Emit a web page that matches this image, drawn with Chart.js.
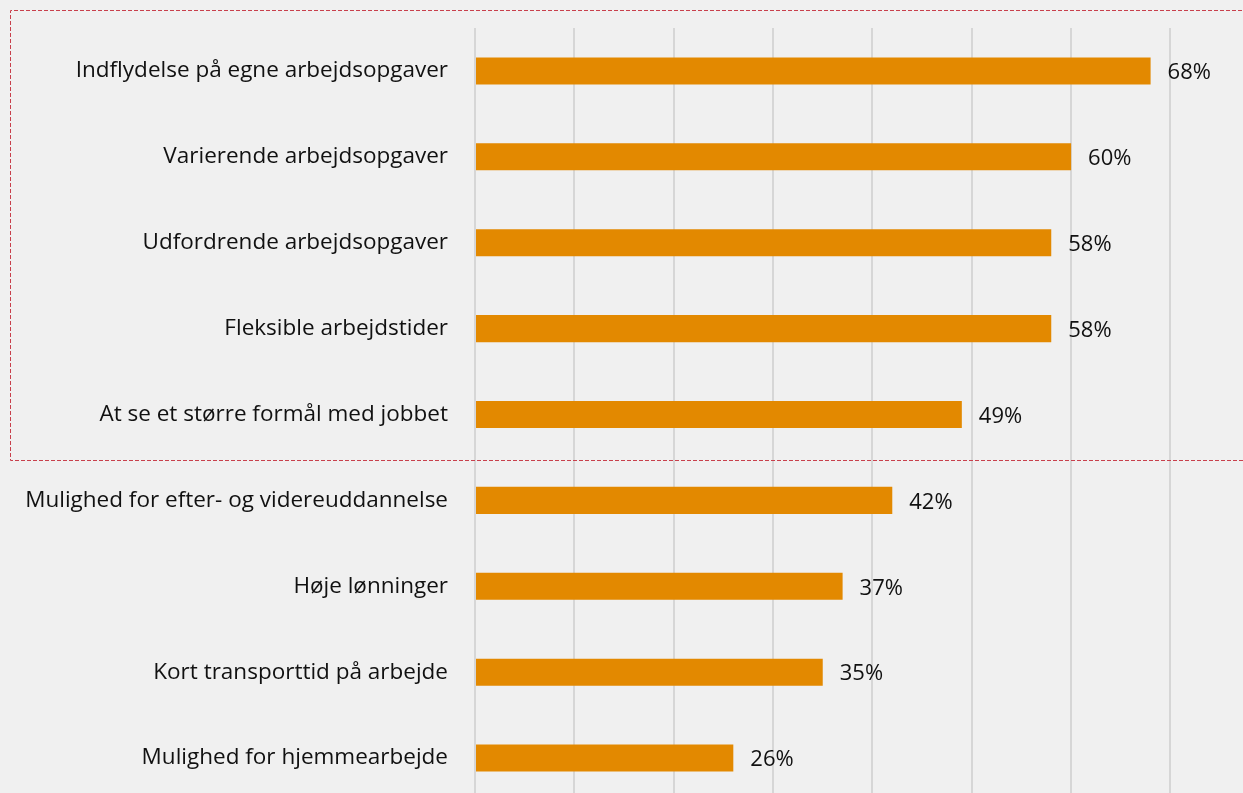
<!DOCTYPE html>
<html>
<head>
<meta charset="utf-8">
<script src="https://cdn.jsdelivr.net/npm/chart.js@4"></script>
<style>
  html, body { margin: 0; padding: 0; background: #f0f0f0; overflow: hidden; }
  canvas { display: block; }
</style>
</head>
<body>
<canvas id="chart" width="1243" height="801"></canvas>
<script>
// categories, top to bottom
const labels = [
  'Indflydelse på egne arbejdsopgaver',
  'Varierende arbejdsopgaver',
  'Udfordrende arbejdsopgaver',
  'Fleksible arbejdstider',
  'At se et større formål med jobbet',
  'Mulighed for efter- og videreuddannelse',
  'Høje lønninger',
  'Kort transporttid på arbejde',
  'Mulighed for hjemmearbejde',
];
const values = [68, 60, 58, 58, 49, 42, 37, 35, 26];
const valueLabels = ['68%', '60%', '58%', '58%', '49%', '42%', '37%', '35%', '26%'];
// first five rows are marked with the dashed box
const boxedRows = 5;

const FONT = '"Open Sans", Lato, sans-serif';

// value labels right of each bar
const valueLabelPlugin = {
  id: 'valueLabels',
  afterDatasetsDraw(chart) {
    const ctx = chart.ctx;
    const meta = chart.getDatasetMeta(0);
    ctx.save();
    ctx.font = '22px ' + FONT;
    ctx.fillStyle = '#111';
    ctx.textAlign = 'left';
    ctx.textBaseline = 'middle';
    meta.data.forEach((bar, i) => {
      ctx.fillText(valueLabels[i], bar.x + 17, bar.y + 2);
    });
    ctx.restore();
  },
};

// dashed red frame around the top rows
const framePlugin = {
  id: 'frame',
  afterDraw(chart) {
    const ctx = chart.ctx;
    const y = chart.scales.y;
    const bottom = Math.round(y.getPixelForValue(boxedRows - 0.5)) + 3.5;
    ctx.save();
    ctx.strokeStyle = '#c8404c';
    ctx.lineWidth = 1;
    ctx.setLineDash([4, 2]);
    ctx.beginPath();
    ctx.moveTo(chart.width + 5, 10.5);
    ctx.lineTo(10.5, 10.5);
    ctx.lineTo(10.5, bottom);
    ctx.lineTo(chart.width + 5, bottom);
    ctx.stroke();
    ctx.restore();
  },
};

new Chart(document.getElementById('chart'), {
  type: 'bar',
  data: {
    labels: labels,
    datasets: [
      {
        data: values,
        backgroundColor: '#e38900',
        borderWidth: 0,
        barPercentage: 0.315,
        categoryPercentage: 1,
      },
    ],
  },
  options: {
    indexAxis: 'y',
    responsive: false,
    animation: false,
    layout: { padding: { top: 28, right: 0, bottom: 0, left: 0 } },
    plugins: {
      legend: { display: false },
      tooltip: { enabled: false },
    },
    scales: {
      x: {
        min: 0,
        max: 77.3,
        grid: { color: '#d6d6d6', lineWidth: 2, drawTicks: false },
        border: { display: false },
        ticks: { display: false, stepSize: 10 },
        afterBuildTicks(scale) {
          scale.ticks = scale.ticks.filter((t) => t.value % 10 === 0);
        },
        afterFit(scale) {
          scale.height = 0;
          scale.paddingLeft = 0;
          scale.paddingRight = 0;
        },
      },
      y: {
        grid: { display: false, drawTicks: false },
        border: { display: false },
        ticks: {
          color: '#111',
          padding: 27,
          font: { family: FONT, size: 22.5 },
        },
        afterFit(scale) {
          scale.width = 475;
          scale.paddingTop = 0;
          scale.paddingBottom = 0;
        },
      },
    },
  },
  plugins: [valueLabelPlugin, framePlugin],
});
</script>
</body>
</html>
